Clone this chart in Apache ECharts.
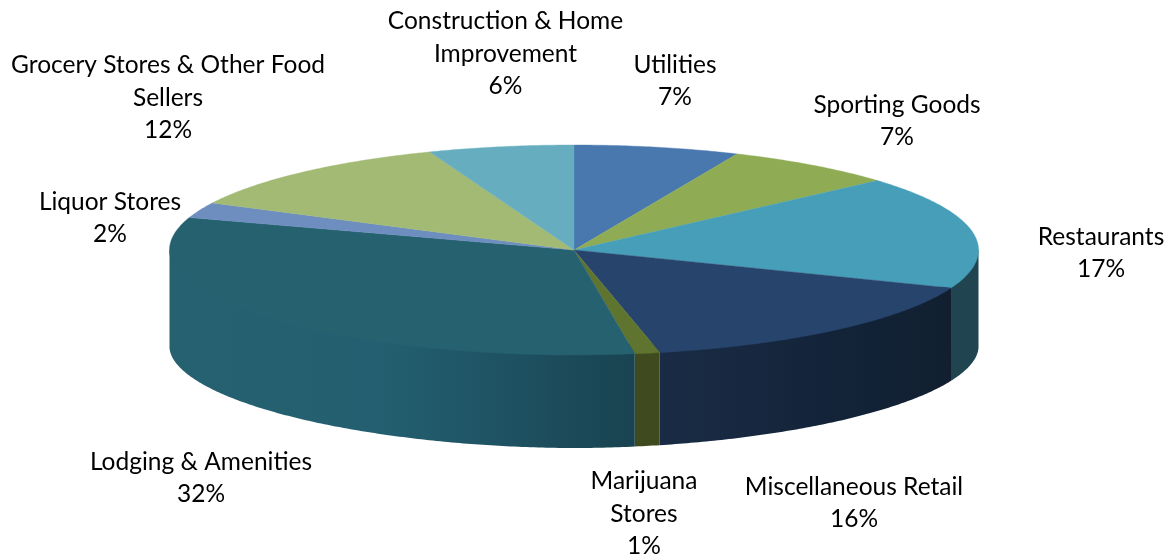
<!DOCTYPE html>
<html>
<head>
<meta charset="utf-8">
<style>html,body{margin:0;padding:0;background:#fff}#c{width:1171px;height:559px}</style>
<script src="https://cdn.jsdelivr.net/npm/echarts@6/dist/echarts.min.js"></script>
</head>
<body>
<div id="c"></div>
<script>
const categories = ['Utilities','Sporting Goods','Restaurants','Miscellaneous Retail','Marijuana\nStores','Lodging & Amenities','Liquor Stores','Grocery Stores & Other Food\nSellers','Construction & Home\nImprovement'];
const shares = [6.6, 6.9, 17.4, 15.7, 1.0, 32.4, 2.4, 11.8, 5.8];
const topColors = ['#4878ae','#8fac54','#469eb9','#27446c','#5f742f','#266170','#6d8ebf','#a2ba74','#66adc0'];
const sideStops = [
  [[0,'#3a5f8b'],[1,'#3a5f8b']],
  [[0,'#728943'],[1,'#728943']],
  [[0,'#204550'],[1,'#204550']],
  [[0,'#1a2b45'],[0.55,'#13243a'],[1,'#111f30']],
  [[0,'#3f4a1f'],[1,'#3f4a1f']],
  [[0,'#266170'],[0.45,'#235f70'],[0.72,'#1e5262'],[1,'#194350']],
  [[0,'#57729a'],[1,'#57729a']],
  [[0,'#82955d'],[1,'#82955d']],
  [[0,'#528a9a'],[1,'#528a9a']]
];
const labelCenters = [[675,81],[897,121],[1101,253],[854,503],[644,514],[201,478],[110,218],[168,98],[505.5,54]];

const cx = 574, cy = 250, rx = 404.5, ry = 105;
const lowerCy = 347, lowerRy = 101, lowerPower = 1.9;
const total = shares.reduce((a, b) => a + b, 0);
let running = 0;
const sliceData = shares.map(v => { const row = [v, running]; running += v; return row; });
const pt = t => [cx + rx * Math.sin(t), cy - ry * Math.cos(t)];
const toAngle = v => v / total * Math.PI * 2;
const arc = (a, b) => {
  const n = Math.max(2, Math.ceil((b - a) / 0.01));
  const out = [];
  for (let i = 0; i <= n; i++) out.push(pt(a + (b - a) * i / n));
  return out;
};
const lowerEdge = p => {
  const u = Math.min(1, Math.abs(p[0] - cx) / rx);
  return [p[0], lowerCy + lowerRy * Math.pow(1 - Math.pow(u, lowerPower), 1 / lowerPower)];
};
const tucked = p => [cx + (p[0] - cx) * 0.98, cy + (p[1] - cy) * 0.9];

function renderSide(params, api) {
  const i = params.dataIndex;
  const a = Math.max(toAngle(api.value(1)), Math.PI / 2);
  const b = Math.min(toAngle(api.value(1) + api.value(0)), Math.PI * 1.5);
  if (b <= a) return { type: 'group', children: [] };
  const upper = arc(a, b);
  const lower = upper.map(lowerEdge).reverse();
  const xs = upper.map(p => p[0]);
  const xL = Math.min.apply(null, xs), xR = Math.max.apply(null, xs);
  const stops = sideStops[i].map(s => ({ offset: s[0], color: s[1] }));
  const fill = new echarts.graphic.LinearGradient(xL, 0, xR, 0, stops, true);
  const points = [upper[0]].concat(upper.map(tucked), [upper[upper.length - 1]], lower);
  return { type: 'polygon', shape: { points: points }, style: { fill: fill } };
}

function renderTop(params, api) {
  const i = params.dataIndex;
  const a = toAngle(api.value(1));
  const b = toAngle(api.value(1) + api.value(0));
  return { type: 'polygon', shape: { points: [[cx, cy]].concat(arc(a, b)) },
           style: { fill: topColors[i], stroke: topColors[i], lineWidth: 0.4 } };
}

function renderLabel(params, api) {
  const i = params.dataIndex;
  const pos = labelCenters[i];
  return { type: 'text', x: pos[0], y: pos[1], silent: true,
    style: { text: categories[i] + '\n' + Math.round(api.value(0)) + '%',
      align: 'center', verticalAlign: 'middle', fill: '#000',
      font: '24.5px Lato, sans-serif', lineHeight: 32.5 } };
}

const chart = echarts.init(document.getElementById('c'), null, { renderer: 'canvas' });
chart.setOption({
  animation: false,
  backgroundColor: '#fff',
  series: [
    { type: 'custom', name: 'side', coordinateSystem: 'none', renderItem: renderSide, data: sliceData, z: 1, silent: true },
    { type: 'custom', name: 'top', coordinateSystem: 'none', renderItem: renderTop, data: sliceData, z: 2, silent: true },
    { type: 'custom', name: 'labels', coordinateSystem: 'none', renderItem: renderLabel, data: sliceData, z: 3, silent: true }
  ]
});
</script>
</body>
</html>
